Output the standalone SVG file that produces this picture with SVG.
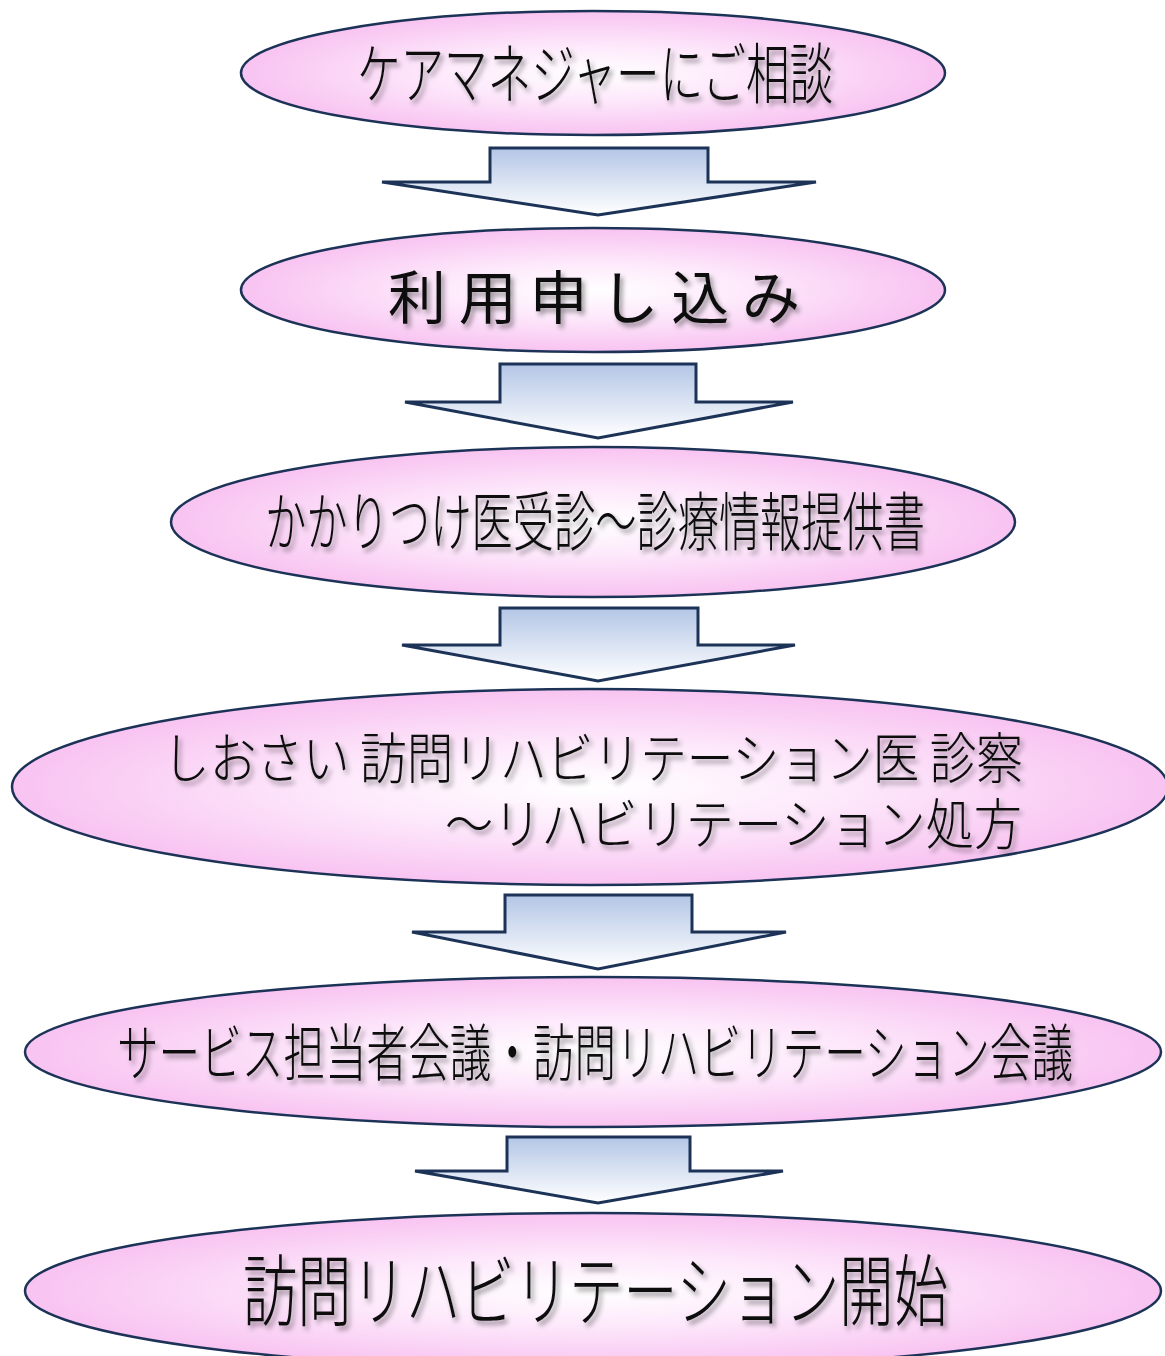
<svg xmlns="http://www.w3.org/2000/svg" width="1165" height="1356" viewBox="0 0 1165 1356">
<defs>
<radialGradient id="pink" cx="0.5" cy="0.5" r="0.5">
<stop offset="0" stop-color="#ffffff"/>
<stop offset="0.45" stop-color="#fde8fb"/>
<stop offset="1" stop-color="#f8c3f1"/>
</radialGradient>
<linearGradient id="blue" x1="0" y1="0" x2="0" y2="1">
<stop offset="0" stop-color="#b3c6e6"/>
<stop offset="1" stop-color="#ffffff"/>
</linearGradient>
<filter id="sh" x="-10%" y="-40%" width="120%" height="180%">
<feDropShadow dx="3" dy="4" stdDeviation="2.5" flood-color="#000" flood-opacity="0.4"/>
</filter>
</defs>
<style>
.node ellipse{fill:url(#pink);stroke:#1c3357;stroke-width:2.5}
.arrow polygon{fill:url(#blue);stroke:#1c3357;stroke-width:3;stroke-linejoin:miter}
text{font-family:"Noto Sans CJK JP","Noto Sans CJK SC",sans-serif;fill:#111;filter:url(#sh);font-weight:300}
.wide{font-weight:400}
</style>
<g id="connectors">
<g class="arrow" id="a1"><polygon points="490,148 708,148 708,182 816,182 598,215 382,182 490,182"/></g>
<g class="arrow" id="a2"><polygon points="500,364 696,364 696,402 793,402 598,438 405,402 500,402"/></g>
<g class="arrow" id="a3"><polygon points="500,608 698,608 698,645 795,645 598,681 402,645 500,645"/></g>
<g class="arrow" id="a4"><polygon points="505,895 692,895 692,932 786,932 598,969 412,932 505,932"/></g>
<g class="arrow" id="a5"><polygon points="507,1137 690,1137 690,1171 783,1171 598,1203 415,1171 507,1171"/></g>
</g>
<g class="node" id="n1">
<ellipse cx="593" cy="73" rx="352" ry="62"/>
<text x="357" y="98" font-size="66" textLength="476" lengthAdjust="spacingAndGlyphs">ケアマネジャーにご相談</text>
</g>
<g class="node" id="n2">
<ellipse cx="593" cy="290" rx="352" ry="62"/>
<text class="wide" x="388" y="319" font-size="58" textLength="412" lengthAdjust="spacing">利用申し込み</text>
</g>
<g class="node" id="n3">
<ellipse cx="593" cy="522" rx="422" ry="75"/>
<text x="265" y="545" font-size="64" textLength="660" lengthAdjust="spacingAndGlyphs">かかりつけ医受診～診療情報提供書</text>
</g>
<g class="node" id="n4">
<ellipse cx="590" cy="787" rx="578" ry="98"/>
<text x="163" y="778" font-size="55" textLength="860" lengthAdjust="spacingAndGlyphs">しおさい 訪問リハビリテーション医 診察</text>
<text x="445" y="844" font-size="55" textLength="577" lengthAdjust="spacingAndGlyphs">～リハビリテーション処方</text>
</g>
<g class="node" id="n5">
<ellipse cx="593" cy="1052" rx="568" ry="75"/>
<text x="117" y="1076" font-size="62" textLength="956" lengthAdjust="spacingAndGlyphs">サービス担当者会議・訪問リハビリテーション会議</text>
</g>
<g class="node" id="n6">
<ellipse cx="593" cy="1291" rx="568" ry="78"/>
<text x="243" y="1320" font-size="78" textLength="705" lengthAdjust="spacingAndGlyphs">訪問リハビリテーション開始</text>
</g>
</svg>
